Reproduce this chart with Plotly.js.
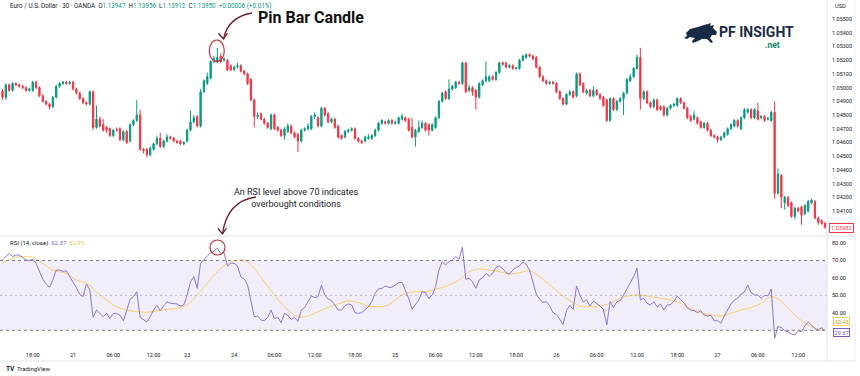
<!DOCTYPE html>
<html><head><meta charset="utf-8">
<script src="https://cdn.plot.ly/plotly-3.0.1.min.js"></script>
<style>html,body{margin:0;padding:0;background:#fff;}#chart{width:860px;height:376px;}</style>
</head><body><div id="chart"></div>
<script>
// EUR/USD 30-minute candles (bar index 0..245)
const openP = [
1.04975,1.0493,1.0502,1.0498,1.0503,1.0502,1.0501,1.0500,1.0498,1.0498,
1.0504,1.0500,1.0494,1.0490,1.0488,1.0486,1.0493,1.0501,1.0503,1.0504,
1.0503,1.0504,1.0499,1.0496,1.0492,1.0489,1.0488,1.0497,1.0471,1.0477,
1.0473,1.0471,1.0470,1.0465,1.04695,1.0470,1.0462,1.0468,1.0461,1.0473,
1.0476,1.0480,1.0455,1.0455,1.0451,1.0455,1.0459,1.0463,1.0457,1.0461,
1.0464,1.0463,1.0461,1.0461,1.0459,1.0461,1.0469,1.0475,1.0479,1.0472,
1.0497,1.0503,1.0507,1.0519,1.0519,1.0523,1.0520,1.0520,1.0516,1.0513,
1.0515,1.0516,1.0512,1.0510,1.0506,1.0491,1.0479,1.0481,1.0477,1.0474,
1.0470,1.0480,1.0471,1.0469,1.0465,1.0468,1.0472,1.0467,1.0466,1.0461,
1.0469,1.0470,1.0470,1.0479,1.0478,1.0472,1.0485,1.0481,1.0475,1.0477,
1.0472,1.0465,1.0464,1.0468,1.0469,1.0470,1.0463,1.0461,1.0461,1.0463,
1.0463,1.0465,1.0469,1.0474,1.0475,1.0474,1.0476,1.0474,1.0474,1.0477,
1.0478,1.0477,1.0471,1.0464,1.0468,1.0471,1.0474,1.0473,1.0469,1.0471,
1.0478,1.0490,1.0497,1.0492,1.0499,1.0500,1.0504,1.0503,1.0518,1.0498,
1.0500,1.0498,1.0493,1.0502,1.0505,1.0505,1.0508,1.0506,1.0511,1.0518,
1.0518,1.0515,1.0516,1.0514,1.0514,1.0520,1.0522,1.0524,1.0523,1.0522,
1.0515,1.0508,1.0505,1.0503,1.0504,1.0503,1.0497,1.0492,1.0488,1.0495,
1.0497,1.0494,1.0510,1.0503,1.0496,1.0498,1.0494,1.0498,1.0495,1.0493,
1.0491,1.0476,1.0492,1.0484,1.0490,1.0492,1.0496,1.0505,1.0508,1.0514,
1.0522,1.0492,1.0497,1.0489,1.0486,1.0491,1.0486,1.0486,1.0480,1.0485,
1.0487,1.0487,1.0492,1.0489,1.0485,1.0479,1.0477,1.0478,1.0475,1.0471,
1.0474,1.0469,1.0465,1.0464,1.0462,1.0464,1.0466,1.0470,1.0472,1.0476,
1.0470,1.0478,1.0482,1.0484,1.0478,1.0483,1.0478,1.0479,1.0477,1.0476,
1.0482,1.0423,1.0436,1.0416,1.0420,1.0416,1.0406,1.0412,1.0413,1.0408,
1.0410,1.0416,1.0417,1.0405,1.0403,1.0401];
const highP = [
1.0499,1.0503,1.0503,1.0504,1.0504,1.0503,1.0502,1.0501,1.0500,1.0505,
1.0505,1.0501,1.0495,1.0491,1.0489,1.0494,1.0502,1.0504,1.0505,1.0505,
1.0505,1.0505,1.0500,1.0497,1.0493,1.0490,1.0498,1.0498,1.0487,1.0479,
1.0477,1.0472,1.0471,1.0470,1.0471,1.0471,1.0469,1.0469,1.0474,1.0477,
1.0491,1.0484,1.0456,1.0456,1.0457,1.0460,1.0465,1.0467,1.0462,1.0466,
1.0465,1.0464,1.0462,1.0462,1.0461,1.0470,1.0483,1.0480,1.0480,1.0499,
1.0506,1.0511,1.0520,1.0523,1.0529,1.0525,1.0522,1.0521,1.0517,1.0516,
1.0518,1.0517,1.0513,1.0511,1.0507,1.0492,1.0482,1.0482,1.0478,1.0475,
1.0481,1.0481,1.0472,1.0470,1.0471,1.0474,1.0473,1.0468,1.0467,1.0470,
1.0471,1.0474,1.0480,1.0482,1.0479,1.0486,1.0486,1.0482,1.0478,1.0478,
1.0473,1.0466,1.0469,1.0470,1.0471,1.0471,1.0464,1.0462,1.0465,1.0466,
1.0466,1.0470,1.0475,1.0477,1.0476,1.0477,1.0477,1.0476,1.0479,1.0481,
1.0479,1.0478,1.0478,1.0470,1.0476,1.0476,1.0475,1.0474,1.0474,1.0479,
1.0491,1.0497,1.0498,1.0506,1.0502,1.0505,1.0505,1.0519,1.0519,1.0502,
1.0501,1.0499,1.0504,1.0506,1.0519,1.0509,1.0509,1.0512,1.0519,1.0519,
1.0519,1.0517,1.0517,1.0515,1.0521,1.0524,1.0525,1.0525,1.0524,1.0523,
1.0516,1.0509,1.0506,1.0505,1.0505,1.0504,1.0498,1.0493,1.0496,1.0498,
1.0498,1.0511,1.0511,1.0504,1.0499,1.0499,1.0501,1.0499,1.0496,1.0494,
1.0492,1.0493,1.0493,1.0491,1.0493,1.0497,1.0507,1.0510,1.0515,1.0524,
1.0529,1.0498,1.0498,1.0490,1.0492,1.0492,1.0487,1.0487,1.0486,1.0488,
1.0489,1.0493,1.0493,1.0490,1.0486,1.0480,1.0483,1.0479,1.0476,1.0475,
1.0475,1.0470,1.0466,1.0465,1.0465,1.0468,1.0471,1.0474,1.0477,1.0477,
1.0479,1.0485,1.0485,1.0485,1.0485,1.0489,1.0480,1.0480,1.0479,1.0483,
1.0490,1.0441,1.0437,1.0421,1.0421,1.0417,1.0413,1.0413,1.0414,1.0415,
1.0418,1.0419,1.0418,1.0406,1.0404,1.0402];
const lowP = [
1.0491,1.0491,1.0497,1.0497,1.0501,1.0500,1.0499,1.0497,1.0497,1.0497,
1.0499,1.0493,1.0489,1.0487,1.0484,1.0485,1.0492,1.0500,1.0502,1.0502,
1.0502,1.0498,1.0495,1.0491,1.0488,1.0487,1.0487,1.0469,1.0470,1.0471,
1.0468,1.0467,1.0464,1.0464,1.0468,1.0461,1.0461,1.0459,1.0460,1.0472,
1.0475,1.0454,1.0452,1.0449,1.0450,1.0454,1.0458,1.0456,1.0456,1.0460,
1.0462,1.0460,1.0459,1.0458,1.0458,1.0460,1.0468,1.0474,1.0471,1.0471,
1.0496,1.0502,1.0506,1.0518,1.0518,1.0518,1.0519,1.0512,1.0512,1.0512,
1.0514,1.0511,1.0509,1.0502,1.0490,1.0471,1.0477,1.0476,1.0473,1.0470,
1.0469,1.0469,1.0468,1.0464,1.0462,1.0467,1.0466,1.0463,1.0453,1.0460,
1.0468,1.0469,1.0469,1.0477,1.0471,1.0471,1.0479,1.0474,1.0474,1.0470,
1.0463,1.0462,1.0463,1.0467,1.0468,1.0462,1.0460,1.0459,1.0460,1.0462,
1.0462,1.0464,1.0468,1.0473,1.0473,1.0473,1.0473,1.0473,1.0473,1.0476,
1.0475,1.0468,1.0463,1.0457,1.0467,1.0470,1.0468,1.0465,1.0468,1.0470,
1.0477,1.0489,1.0491,1.0491,1.0498,1.0499,1.0502,1.0502,1.0496,1.0497,
1.0494,1.0484,1.0492,1.0501,1.0504,1.0504,1.0505,1.0505,1.0510,1.0516,
1.0514,1.0514,1.0513,1.0513,1.0513,1.0519,1.0521,1.0522,1.0520,1.0514,
1.0507,1.0504,1.0502,1.0502,1.0502,1.0496,1.0491,1.0487,1.0487,1.0494,
1.0492,1.0493,1.0501,1.0496,1.0495,1.0493,1.0493,1.0494,1.0491,1.0486,
1.0475,1.0475,1.0483,1.0483,1.0489,1.0480,1.0495,1.0504,1.0507,1.0513,
1.0484,1.0491,1.0488,1.0485,1.0485,1.0483,1.0483,1.0479,1.0479,1.0484,
1.0486,1.0486,1.0488,1.0484,1.0477,1.0475,1.0476,1.0473,1.0470,1.0470,
1.0468,1.0464,1.0463,1.0460,1.0461,1.0463,1.0465,1.0469,1.0471,1.0471,
1.0469,1.0477,1.0481,1.0477,1.0477,1.0476,1.0477,1.0475,1.0476,1.0475,
1.0419,1.0422,1.0412,1.0411,1.0413,1.0405,1.0404,1.0409,1.0400,1.0407,
1.0409,1.0415,1.0404,1.0400,1.0400,1.0397];
const closeP = [
1.0493,1.0502,1.0498,1.0503,1.0502,1.0501,1.0500,1.0498,1.0499,1.0504,
1.0500,1.0494,1.0490,1.0488,1.0486,1.0493,1.0501,1.0503,1.0504,1.0503,
1.0504,1.0499,1.0496,1.0492,1.0489,1.0488,1.0497,1.0471,1.0477,1.0472,
1.0469,1.0469,1.0465,1.0469,1.0469,1.0462,1.0468,1.0460,1.0473,1.0476,
1.0480,1.0455,1.0454,1.0451,1.0456,1.0459,1.0463,1.0457,1.0461,1.0464,
1.0463,1.0461,1.0460,1.0459,1.0460,1.0469,1.0475,1.0478,1.0472,1.0497,
1.0505,1.0508,1.0519,1.0521,1.0522,1.0519,1.0521,1.0513,1.0513,1.0515,
1.0516,1.0512,1.0510,1.0503,1.0491,1.0479,1.0480,1.0477,1.0474,1.0471,
1.0480,1.0470,1.0469,1.0465,1.0470,1.0472,1.0467,1.0464,1.0461,1.0469,
1.0470,1.0472,1.0479,1.0480,1.0472,1.0485,1.0480,1.0475,1.0477,1.0471,
1.0464,1.0463,1.0468,1.0469,1.0470,1.0463,1.0461,1.0460,1.0464,1.0464,
1.0465,1.0469,1.0474,1.0476,1.0474,1.0476,1.0474,1.04745,1.0478,1.0479,
1.0476,1.0469,1.0464,1.0469,1.0471,1.0474,1.0469,1.0469,1.0473,1.0478,
1.0490,1.0496,1.0492,1.0499,1.0501,1.0504,1.0503,1.0518,1.0497,1.0500,
1.0497,1.0493,1.0503,1.0505,1.0508,1.0508,1.0506,1.0511,1.0518,1.0517,
1.0515,1.0516,1.0514,1.05145,1.0520,1.0523,1.0524,1.0523,1.0521,1.0515,
1.0508,1.0505,1.0503,1.0504,1.0503,1.0497,1.0492,1.0488,1.0495,1.0497,
1.0493,1.0510,1.0502,1.0497,1.0498,1.0494,1.0498,1.0495,1.0492,1.0487,
1.0476,1.0492,1.0484,1.0490,1.0492,1.0496,1.0506,1.0508,1.0514,1.0522,
1.0492,1.0497,1.0489,1.0486,1.0491,1.0484,1.0484,1.0480,1.0485,1.0487,
1.0488,1.0492,1.0489,1.0485,1.0478,1.0476,1.0480,1.0474,1.0471,1.0474,
1.0469,1.0465,1.0464,1.0462,1.0464,1.0467,1.0470,1.0473,1.0476,1.0472,
1.0478,1.0484,1.0484,1.0478,1.0484,1.0477,1.0479,1.0476,1.04775,1.0482,
1.0423,1.0437,1.0420,1.0420,1.0414,1.0406,1.0412,1.0410,1.0407,1.0414,
1.0417,1.0418,1.0405,1.0402,1.0401,1.03982];

// RSI(14) per bar
const rsi = [
70.3,72.2,74.1,72.2,73.1,73.1,71.8,70.3,69.9,70.7,
68.4,63.6,59.2,56.5,54.6,58.8,64.5,64.5,63.8,64.1,
61.1,57.3,54.4,50.6,49.3,56.5,53.1,37.4,41.6,39.7,
37.8,39.7,36.7,39.7,39.7,38.6,35.5,41.3,47.8,49.3,
52.1,37.4,36.3,34.9,37.8,41.6,44.3,41.3,43.9,46.4,
45.5,45.1,45.1,43.9,44.5,50.2,57.8,60.7,54.0,68.4,
70.3,72.2,74.5,75.3,77.0,74.1,74.5,66.8,68.4,68.4,
66.8,60.7,59.4,55.9,45.9,37.8,38.2,35.9,35.5,37.4,
41.6,36.8,37.4,34.4,39.7,38.6,36.3,37.4,35.1,41.6,
43.1,46.4,49.7,48.7,49.3,55.9,50.2,47.9,47.0,44.5,
41.6,41.6,44.1,45.1,44.5,40.1,39.7,40.1,41.6,43.5,
46.4,51.2,53.7,54.0,55.4,54.6,54.6,56.0,57.3,57.5,
53.1,48.3,42.0,44.5,47.4,52.1,51.6,48.3,50.2,55.0,
64.5,69.3,67.4,69.3,70.3,72.2,70.7,77.6,59.2,59.8,
57.8,54.0,58.8,60.0,62.6,61.1,62.6,66.0,66.8,65.3,
63.0,62.2,64.5,66.0,66.8,69.1,67.8,64.5,56.9,50.8,
47.8,46.0,46.4,44.0,40.1,39.0,36.3,33.4,41.3,44.3,
42.0,55.4,50.2,46.2,47.4,43.9,46.8,45.5,43.9,42.0,
33.1,46.4,43.1,46.4,47.0,50.2,54.0,57.8,60.7,65.5,
47.4,48.3,45.5,44.5,46.4,43.5,45.1,41.6,44.5,44.7,
46.6,49.7,47.4,45.9,42.8,41.6,41.3,40.1,41.3,38.8,
38.2,38.6,35.5,35.5,34.0,38.2,41.6,45.1,47.4,48.3,
50.8,51.9,55.9,51.6,50.2,50.2,48.3,50.0,49.7,53.5,
25.5,32.1,31.7,29.8,29.1,27.9,27.3,29.8,29.2,32.5,
34.8,32.9,31.0,30.2,31.5,29.67];

// RSI-based moving average, sampled along the yellow line
const maIdx = [0,3,6,9,12,15,19,22,25,28,31,34,37,40,43,46,49,52,55,58,61,64,67,69,71,73,75,78,81,84,87,89,91,94,97,100,103,106,109,112,115,117,120,123,126,
  130,133,136,139,142,145,148,151,154,157,160,163,166,169,172,175,178,181,184,187,190,193,196,199,202,205,208,211,214,217,220,223,226,229,232,235,238,241,244,245];
const maVal = [68.4,71.2,72.2,71.8,68.4,64.5,62.6,58.8,56.9,52.1,47.4,43.5,41.6,40.7,40.3,41.1,42.0,42.6,44.5,50.2,56.9,63.6,68.4,69.9,70.3,69.3,65.5,57.8,50.2,43.5,38.8,37.4,38.2,40.7,43.1,45.1,46.8,45.9,43.9,43.5,44.5,47.4,51.2,52.1,52.1,
  54.0,55.9,58.8,63.6,65.0,64.5,63.6,62.2,63.0,64.1,60.7,55.9,51.2,47.0,43.9,43.5,43.9,45.5,48.3,49.9,50.2,49.3,48.3,47.4,45.5,42.6,40.1,38.8,38.2,39.7,41.6,43.1,45.5,49.3,46.6,40.7,35.5,32.1,30.2,30.2];

// time axis labels (bar index -> label)
const tickIdx = [9,21,33,45,55,69,81,93,105,117,129,141,153,165,177,189,201,213,225,237];
const tickText = ['18:00','21','06:00','12:00','23','24','06:00','12:00','18:00','25','06:00','12:00','18:00','26','06:00','12:00','18:00','27','06:00','12:00'];
const priceTicks = [1.041,1.042,1.043,1.044,1.045,1.046,1.047,1.048,1.049,1.050,1.051,1.052,1.053,1.054,1.055];
const rsiTicks = [40,50,60,70,80];
const lastPrice = '1.03982', lastRsi = '29.67', lastMa = '30.43';

const bars = openP.map((_, i) => i);
const W = 827, H = 344;
const px = x => x / W;
const py = y => 1 - y / H;
const pt = (x, y) => px(x) + ',' + py(y);
const FONT = 'Roboto, Arial, sans-serif';

const traces = [
  {type:'candlestick', x:bars, open:openP, high:highP, low:lowP, close:closeP, xaxis:'x', yaxis:'y',
   increasing:{line:{color:'#089981', width:1}, fillcolor:'#089981'},
   decreasing:{line:{color:'#F23645', width:1}, fillcolor:'#F23645'},
   whiskerwidth:0, hoverinfo:'skip', showlegend:false},
  {type:'scatter', mode:'lines', x:maIdx, y:maVal, xaxis:'x', yaxis:'y2', line:{color:'rgba(242,205,80,0.85)', width:1, shape:'spline'}, hoverinfo:'skip', showlegend:false},
  {type:'scatter', mode:'lines', x:bars, y:rsi, xaxis:'x', yaxis:'y2', line:{color:'#8464C6', width:0.9}, hoverinfo:'skip', showlegend:false}
];

// bull logo polygon (pixel coords relative to origin)
const bullPts = [[2,10],[6,6],[14,4],[20,2],[24,1],[27,0],[26,3],[30,2],[29,5],[33,9],[32,12],[28,12],[26,15],[29,19],[27,20],[23,16],[18,16],[14,18],[9,20],[8,18],[11,15],[6,14],[3,16],[0,15],[3,13]];
const bullPath = 'M ' + bullPts.map(p => pt(684 + p[0], 23 + p[1])).join(' L ') + ' Z';

const shapes = [
  {type:'rect', xref:'paper', yref:'y2', x0:0, x1:1, y0:30, y1:70, fillcolor:'rgba(126,87,194,0.1)', line:{width:0}, layer:'below'},
  {type:'line', xref:'paper', yref:'y2', x0:0, x1:1, y0:70, y1:70, line:{color:'#787B86', width:1, dash:'3px,3px'}},
  {type:'line', xref:'paper', yref:'y2', x0:0, x1:1, y0:30, y1:30, line:{color:'#787B86', width:1, dash:'3px,3px'}},
  {type:'line', xref:'paper', yref:'y2', x0:0, x1:1, y0:50, y1:50, line:{color:'rgba(120,123,134,0.45)', width:1, dash:'2px,3px'}},
  {type:'line', xref:'paper', yref:'paper', x0:0, x1:px(855), y0:py(236), y1:py(236), line:{color:'#e0e3eb', width:1}},
  {type:'line', xref:'paper', yref:'paper', x0:1, x1:1, y0:py(0), y1:py(361), line:{color:'#e0e3eb', width:1}},
  {type:'line', xref:'paper', yref:'paper', x0:0, x1:px(855), y0:py(361), y1:py(361), line:{color:'#e0e3eb', width:1}},
  {type:'line', xref:'paper', yref:'paper', x0:px(855), x1:px(855), y0:py(0), y1:py(361), line:{color:'#eceef2', width:1}},
  // pin bar highlight
  {type:'circle', xref:'paper', yref:'paper', x0:px(209.3), x1:px(224.3), y0:py(40), y1:py(61.7), line:{color:'#C8323F', width:1.2}},
  {type:'path', xref:'paper', yref:'paper', path:'M ' + pt(252,13) + ' Q ' + pt(228,17) + ' ' + pt(223.5,39), line:{color:'#6B1D2A', width:1.3}},
  {type:'path', xref:'paper', yref:'paper', path:'M ' + pt(218.5,33.5) + ' L ' + pt(223.5,39) + ' L ' + pt(227.5,33), line:{color:'#6B1D2A', width:1.3}},
  // RSI highlight
  {type:'circle', xref:'paper', yref:'paper', x0:px(210), x1:px(225), y0:py(240), y1:py(255), line:{color:'#C8323F', width:1.2}},
  {type:'path', xref:'paper', yref:'paper', path:'M ' + pt(256,197) + ' Q ' + pt(227,201) + ' ' + pt(222.5,234), line:{color:'#6B1D2A', width:1.3}},
  {type:'path', xref:'paper', yref:'paper', path:'M ' + pt(218,228.5) + ' L ' + pt(222.5,234) + ' L ' + pt(226.5,228), line:{color:'#6B1D2A', width:1.3}},
  // logo
  {type:'path', xref:'paper', yref:'paper', path:bullPath, fillcolor:'#1A2B45', line:{width:0}}
];

const G = '#089981';
const header = 'Euro / U.S. Dollar · 30 · OANDA &nbsp;O<span style="color:'+G+'">1.13947</span> &nbsp;H<span style="color:'+G+'">1.13956</span> &nbsp;L<span style="color:'+G+'">1.13912</span> &nbsp;C<span style="color:'+G+'">1.13950</span> &nbsp;<span style="color:'+G+'">+0.00006 (+0.01%)</span>';

const ann = (x, y, text, o) => Object.assign({xref:'paper', yref:'paper', x:px(x), y:py(y), text:text, showarrow:false, xanchor:'left', yanchor:'middle', font:{family:FONT, size:5.7, color:'#131722'}}, o || {});

const annotations = [
  ann(8, 5.5, header, {font:{family:FONT, size:6.3, color:'#131722'}}),
  ann(8, 243, 'RSI (14, close) &nbsp;<span style="color:#7E57C2">62.37</span> &nbsp;<span style="color:#E8C547">62.95</span>', {font:{family:FONT, size:6, color:'#131722'}}),
  ann(833, 5.5, 'USD'),
  ann(256, 18, '<b>Pin Bar Candle</b>', {font:{family:FONT, size:16, color:'#111111'}}),
  ann(296, 198, 'An RSI level above 70 indicates<br>overbought conditions', {xanchor:'center', font:{family:FONT, size:9, color:'#1c1c1c'}}),
  ann(841, 228, lastPrice, {xanchor:'center', bgcolor:'#ffffff', bordercolor:'#F23645', borderwidth:1, borderpad:1, font:{family:FONT, size:5.7, color:'#F23645'}}),
  ann(841, 321.5, lastMa, {xanchor:'center', bgcolor:'#ffffff', bordercolor:'#F3D35E', borderwidth:1, borderpad:0.5, font:{family:FONT, size:5.7, color:'#C9A21E'}}),
  ann(841, 332, lastRsi, {xanchor:'center', bgcolor:'#ffffff', bordercolor:'#7E57C2', borderwidth:1, borderpad:0.5, font:{family:FONT, size:5.7, color:'#7E57C2'}}),
  ann(717, 32, '<b>PF INSIGHT</b>', {font:{family:FONT, size:14, color:'#1A2B45'}}),
  ann(772, 45, '<b>.net</b>', {xanchor:'center', font:{family:FONT, size:8.5, color:'#0E8A68'}}),
  ann(4, 369, '<b>TV</b>', {font:{family:FONT, size:6.5, color:'#131722'}}),
  ann(15, 369, 'TradingView', {font:{family:FONT, size:6, color:'#131722'}})
];

const axisCommon = {showgrid:false, zeroline:false, showline:false, ticks:'', fixedrange:true};
const layout = {
  width:860, height:376, margin:{l:0, r:33, t:0, b:32},
  paper_bgcolor:'#ffffff', plot_bgcolor:'#ffffff', showlegend:false, hovermode:false,
  font:{family:FONT, color:'#131722'},
  xaxis:Object.assign({range:[-0.745, 245.6], anchor:'y2', tickmode:'array', tickvals:tickIdx, ticktext:tickText,
    tickfont:{family:FONT, size:5.5, color:'#131722'}, rangeslider:{visible:false}, ticklabelstandoff:6}, axisCommon),
  yaxis:Object.assign({domain:[0.31395, 1], range:[1.03918, 1.05639], side:'right', anchor:'x', tickmode:'array', tickvals:priceTicks,
    tickformat:'.5f', tickfont:{family:FONT, size:5.5, color:'#131722'}, ticklabelstandoff:4}, axisCommon),
  yaxis2:Object.assign({domain:[0, 0.31395], range:[22.17, 84.01], side:'right', anchor:'x', tickmode:'array', tickvals:rsiTicks,
    tickformat:'.2f', tickfont:{family:FONT, size:5.5, color:'#131722'}, ticklabelstandoff:4}, axisCommon),
  boxgap:0.45,
  shapes:shapes, annotations:annotations
};

Plotly.newPlot('chart', traces, layout, {staticPlot:true, displayModeBar:false});
</script>
</body></html>
